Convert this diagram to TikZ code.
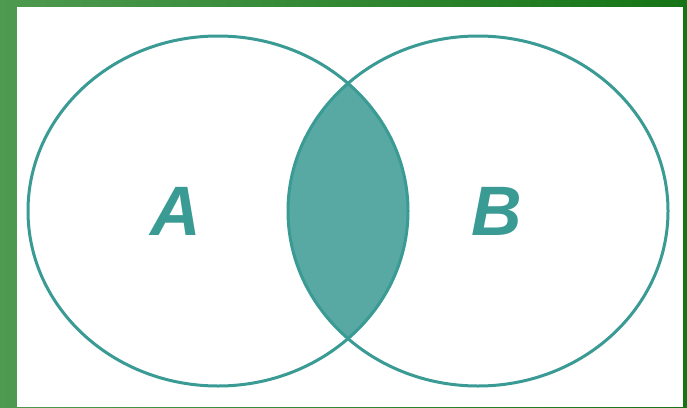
\documentclass[tikz,border=0pt]{standalone}
\usepackage{fontspec}
\setmainfont{Liberation Sans}
\begin{document}
\begin{tikzpicture}[x=1pt,y=-1pt,
  setline/.style={draw=teal1, line width=3pt},
  setlabel/.style={font=\fontsize{70}{70}\selectfont\bfseries\itshape, text=teal1}]
\definecolor{teal1}{HTML}{3A9A94}
\definecolor{tealfill}{HTML}{58A8A4}
\definecolor{gleft}{HTML}{4E9A50}
\definecolor{gright}{HTML}{157415}
\useasboundingbox (0,0) rectangle (687,407);
\shade[left color=gleft, right color=gright] (0,0) rectangle (687,407);
\fill[white] (17,7) rectangle (683,407);
\begin{scope}
  \clip (218,211) ellipse [x radius=190, y radius=175];
  \fill[tealfill] (478,211) ellipse [x radius=190, y radius=175];
\end{scope}
\draw[setline] (218,211) ellipse [x radius=190, y radius=175];
\draw[setline] (478,211) ellipse [x radius=190, y radius=175];
\node[setlabel] (a) at (176,211) {A};
\node[setlabel] (b) at (497,211) {B};
\end{tikzpicture}
\end{document}
